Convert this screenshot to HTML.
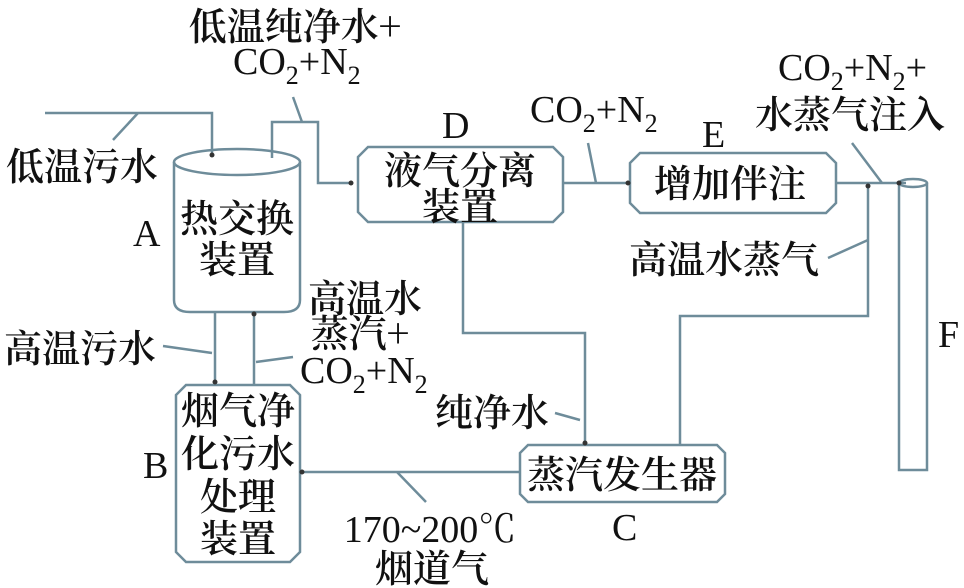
<!DOCTYPE html>
<html><head><meta charset="utf-8"><style>
html,body{margin:0;padding:0;background:#fff;}
svg{display:block;}
text{font-family:"Liberation Serif","Noto Serif CJK SC",serif;font-size:38px;fill:#111;}
.c{font-family:"Noto Serif CJK SC","Noto Sans CJK SC",serif;font-weight:600;}
.m{text-anchor:middle;}
.sub{font-size:26px;}
</style></head><body>
<svg width="964" height="588" viewBox="0 0 964 588" xmlns="http://www.w3.org/2000/svg">
<g fill="none" stroke="#6e8c9a" stroke-width="2.5">
<ellipse cx="237" cy="162" rx="63" ry="13"/>
<path d="M174 162 V300 Q174 312 190 312 H284 Q300 312 300 300 V162"/>
<path d="M45 113 H212 V155"/>
<path d="M138 113 L113 140"/>
<path d="M272 158 V122 H318 V183 H350"/>
<path d="M302 122 L293 97"/>
<path d="M368 147 H553 L563 157 V212 L553 222 H368 L358 212 V157 Z"/>
<path d="M563 183 H628"/>
<path d="M596 183 L588 143"/>
<path d="M640 153 H826 L836 163 V203 L826 213 H640 L630 203 V163 Z"/>
<path d="M836 183 H906"/>
<path d="M882 183 L852 143"/>
<path d="M868 183 V316 H680 V445"/>
<path d="M868 240 L828 258"/>
<path d="M899 183 V470 H927 V183"/>
<ellipse cx="913" cy="183" rx="14" ry="4"/>
<path d="M463 222 V333 H585 V443"/>
<path d="M555 413 L580 420"/>
<path d="M528 445 H717 L725 453 V494 L717 502 H528 L520 494 V453 Z"/>
<path d="M520 472 H302"/>
<path d="M397 472 L426 502"/>
<path d="M186 385 H290 L300 395 V552 L290 562 H186 L176 552 V395 Z"/>
<path d="M215 312 V383"/>
<path d="M254 385 V314"/>
<path d="M163 346 L212 353"/>
<path d="M256 362 L293 357"/>
</g>
<g fill="#333">
<circle cx="212" cy="155" r="2.5"/><circle cx="351" cy="183" r="2.5"/>
<circle cx="628" cy="183" r="2.5"/><circle cx="868" cy="186" r="2.5"/>
<circle cx="899" cy="183" r="2.5"/><circle cx="585" cy="443" r="2.5"/>
<circle cx="302" cy="472" r="2.5"/><circle cx="215" cy="382" r="2.5"/>
<circle cx="254" cy="314" r="2.5"/>
</g>
<text x="295" y="40" class="c m">低温纯净水+</text>
<text x="233" y="74">CO<tspan class="sub" dy="10">2</tspan><tspan dy="-10">+N</tspan><tspan class="sub" dy="10">2</tspan></text>
<text x="6" y="180" class="c">低温污水</text>
<text x="133" y="246">A</text>
<text x="237" y="232" class="c m">热交换</text>
<text x="237" y="273" class="c m">装置</text>
<text x="365" y="312" class="c m">高温水</text>
<text x="360" y="347" class="c m">蒸汽+</text>
<text x="300" y="383">CO<tspan class="sub" dy="10">2</tspan><tspan dy="-10">+N</tspan><tspan class="sub" dy="10">2</tspan></text>
<text x="4" y="362" class="c">高温污水</text>
<text x="238" y="424" class="c m">烟气净</text>
<text x="238" y="467" class="c m">化污水</text>
<text x="238" y="510" class="c m">处理</text>
<text x="238" y="552" class="c m">装置</text>
<text x="143" y="478">B</text>
<text x="492" y="426" class="c m">纯净水</text>
<text x="622" y="488" class="c m">蒸汽发生器</text>
<text x="612" y="540">C</text>
<text x="430" y="542" class="m">170~200℃</text>
<text x="432" y="582" class="c m">烟道气</text>
<text x="442" y="138">D</text>
<text x="460" y="184" class="c m">液气分离</text>
<text x="460" y="220" class="c m">装置</text>
<text x="530" y="122">CO<tspan class="sub" dy="10">2</tspan><tspan dy="-10">+N</tspan><tspan class="sub" dy="10">2</tspan></text>
<text x="702" y="147">E</text>
<text x="730" y="197" class="c m">增加伴注</text>
<text x="778" y="80">CO<tspan class="sub" dy="10">2</tspan><tspan dy="-10">+N</tspan><tspan class="sub" dy="10">2</tspan><tspan dy="-10">+</tspan></text>
<text x="850" y="128" class="c m">水蒸气注入</text>
<text x="724" y="273" class="c m">高温水蒸气</text>
<text x="938" y="347">F</text>
</svg>
</body></html>
